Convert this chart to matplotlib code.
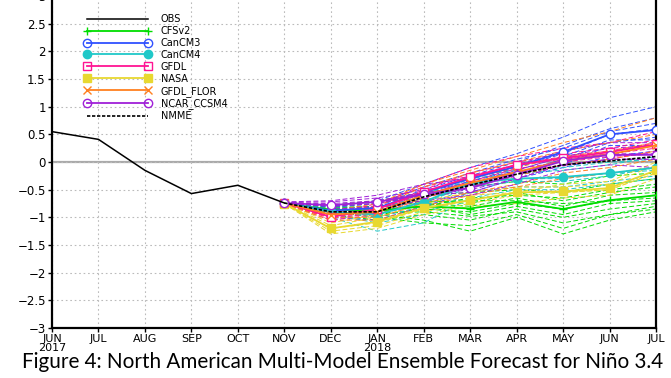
import numpy as np
import matplotlib
matplotlib.use("Agg")
from matplotlib import pyplot as plt
from matplotlib.lines import Line2D

# month axis: JUN 2017 .. JUL 2018
months = ['JUN\n2017', 'JUL', 'AUG', 'SEP', 'OCT', 'NOV', 'DEC', 'JAN\n2018',
          'FEB', 'MAR', 'APR', 'MAY', 'JUN', 'JUL']
obs = [0.55, 0.41, -0.15, -0.57, -0.42, -0.74]

# forecast months NOV .. JUL
cfsv2_mean = [-0.75, -0.86, -0.88, -0.80, -0.84, -0.72, -0.85, -0.69, -0.60]
cancm3_mean = [-0.74, -0.88, -0.83, -0.55, -0.30, -0.08, 0.18, 0.50, 0.58]
cancm4_mean = [-0.74, -0.90, -0.95, -0.72, -0.38, -0.30, -0.27, -0.20, -0.10]
gfdl_mean = [-0.74, -0.99, -0.85, -0.54, -0.27, -0.05, 0.07, 0.18, 0.32]
nasa_mean = [-0.75, -1.20, -1.08, -0.83, -0.69, -0.55, -0.53, -0.47, -0.15]
flor_mean = [-0.74, -0.95, -0.90, -0.60, -0.38, -0.18, 0.02, 0.14, 0.30]
ncar_mean = [-0.74, -0.78, -0.72, -0.58, -0.47, -0.23, 0.02, 0.13, 0.13]
nmme_mean = [-0.74, -0.90, -0.90, -0.63, -0.42, -0.22, -0.05, 0.02, 0.10]

cfsv2_members = [
    [-0.74, -0.85, -0.95, -1.05, -1.25, -1.00, -1.30, -1.05, -0.90],
    [-0.76, -0.90, -1.00, -1.10, -1.15, -0.95, -1.20, -0.95, -0.80],
    [-0.72, -0.80, -0.85, -0.80, -0.95, -0.80, -0.95, -0.75, -0.70],
    [-0.75, -0.88, -0.90, -0.75, -0.80, -0.65, -0.80, -0.60, -0.55],
    [-0.73, -0.82, -0.80, -0.70, -0.75, -0.55, -0.70, -0.55, -0.45],
    [-0.77, -0.92, -0.95, -0.85, -0.90, -0.75, -0.85, -0.70, -0.65],
    [-0.74, -0.80, -0.75, -0.60, -0.55, -0.50, -0.55, -0.40, -0.30],
    [-0.75, -0.86, -0.88, -0.80, -0.65, -0.60, -0.65, -0.50, -0.40],
    [-0.76, -0.95, -1.05, -0.95, -1.05, -0.85, -1.00, -0.85, -0.75],
    [-0.72, -0.78, -0.70, -0.55, -0.45, -0.35, -0.40, -0.25, -0.20],
    [-0.74, -0.84, -0.82, -0.72, -0.70, -0.70, -0.75, -0.70, -0.60],
    [-0.75, -0.90, -0.92, -0.90, -0.98, -0.90, -1.10, -0.95, -0.85],
]
cancm3_members = [
    [-0.72, -0.80, -0.70, -0.40, -0.10, 0.15, 0.45, 0.80, 1.00],
    [-0.74, -0.85, -0.80, -0.50, -0.25, 0.00, 0.30, 0.60, 0.80],
    [-0.76, -0.90, -0.85, -0.60, -0.35, -0.10, 0.15, 0.50, 0.60],
    [-0.73, -0.88, -0.90, -0.65, -0.40, -0.20, 0.05, 0.35, 0.45],
    [-0.75, -0.95, -0.95, -0.70, -0.45, -0.25, -0.05, 0.30, 0.30],
    [-0.74, -0.82, -0.75, -0.45, -0.20, 0.05, 0.25, 0.55, 0.70],
    [-0.75, -0.90, -0.82, -0.55, -0.35, -0.15, 0.10, 0.40, 0.40],
    [-0.77, -1.00, -1.05, -0.80, -0.55, -0.30, -0.10, 0.10, 0.20],
]
cancm4_members = [
    [-0.74, -0.90, -1.00, -0.80, -0.45, -0.35, -0.35, -0.25, -0.10],
    [-0.76, -0.95, -1.10, -0.95, -0.55, -0.45, -0.45, -0.35, -0.25],
    [-0.72, -0.85, -0.90, -0.65, -0.30, -0.20, -0.15, -0.05, 0.10],
    [-0.75, -1.00, -1.25, -1.10, -0.65, -0.50, -0.50, -0.40, -0.30],
    [-0.73, -0.88, -0.85, -0.60, -0.25, -0.15, -0.10, 0.00, 0.05],
    [-0.75, -0.92, -0.95, -0.75, -0.40, -0.30, -0.30, -0.20, -0.15],
]
gfdl_members = [
    [-0.74, -0.95, -0.80, -0.40, -0.10, 0.10, 0.25, 0.35, 0.55],
    [-0.75, -1.00, -0.90, -0.55, -0.30, -0.05, 0.10, 0.20, 0.35],
    [-0.73, -0.98, -0.85, -0.50, -0.20, 0.00, 0.15, 0.25, 0.40],
    [-0.76, -1.05, -0.95, -0.65, -0.40, -0.20, -0.05, 0.05, 0.20],
    [-0.74, -0.95, -0.75, -0.45, -0.25, -0.05, 0.05, 0.15, 0.25],
    [-0.75, -1.02, -0.92, -0.60, -0.35, -0.12, 0.00, 0.10, 0.15],
]
nasa_members = [
    [-0.74, -1.15, -1.00, -0.75, -0.60, -0.55, -0.40, -0.35, 0.00],
    [-0.76, -1.25, -1.15, -0.90, -0.75, -0.60, -0.55, -0.50, -0.20],
    [-0.75, -1.30, -1.20, -0.95, -0.80, -0.75, -0.65, -0.60, -0.30],
    [-0.73, -1.10, -0.95, -0.70, -0.55, -0.45, -0.45, -0.40, -0.05],
    [-0.75, -1.20, -1.10, -0.85, -0.70, -0.55, -0.55, -0.50, -0.20],
]
flor_members = [
    [-0.74, -0.90, -0.80, -0.45, -0.20, 0.00, 0.20, 0.35, 0.50],
    [-0.75, -0.95, -0.95, -0.65, -0.45, -0.25, -0.05, 0.05, 0.20],
    [-0.76, -1.00, -1.00, -0.75, -0.55, -0.40, -0.20, -0.10, 0.05],
    [-0.73, -0.92, -0.85, -0.55, -0.30, -0.10, 0.10, 0.20, 0.35],
    [-0.75, -1.05, -1.05, -0.80, -0.60, -0.45, -0.30, -0.20, -0.10],
    [-0.74, -0.88, -0.75, -0.40, -0.15, 0.10, 0.35, 0.55, 0.80],
]
ncar_members = [
    [-0.72, -0.70, -0.60, -0.40, -0.30, -0.05, 0.20, 0.35, 0.35],
    [-0.74, -0.75, -0.70, -0.55, -0.45, -0.20, 0.05, 0.15, 0.15],
    [-0.75, -0.80, -0.75, -0.60, -0.50, -0.30, -0.05, 0.05, 0.05],
    [-0.73, -0.72, -0.65, -0.50, -0.40, -0.15, 0.10, 0.25, 0.30],
    [-0.76, -0.85, -0.82, -0.70, -0.60, -0.40, -0.15, -0.05, -0.10],
    [-0.74, -0.78, -0.72, -0.60, -0.55, -0.30, -0.05, 0.05, 0.05],
]

# name, colour, marker, filled, means, members
models = [
    ('CFSv2', '#00dd00', '+', True, cfsv2_mean, cfsv2_members),
    ('CanCM3', '#3050ff', 'o', False, cancm3_mean, cancm3_members),
    ('CanCM4', '#20c8c8', 'o', True, cancm4_mean, cancm4_members),
    ('GFDL', '#ff1493', 's', False, gfdl_mean, gfdl_members),
    ('NASA', '#e8d830', 's', True, nasa_mean, nasa_members),
    ('GFDL_FLOR', '#ff8020', 'x', True, flor_mean, flor_members),
    ('NCAR_CCSM4', '#a020d8', 'o', False, ncar_mean, ncar_members),
]

x = np.arange(len(months))
xf = x[5:]

fig = plt.figure(figsize=(6.71, 3.78), dpi=100)
ax = fig.add_axes([0.0775, 0.1323, 0.9001, 0.878])

ax.axhline(0, color='#aaaaaa', lw=1.6, zorder=1)

# ensemble members
for name, col, mk, filled, mean, members in models:
    for m in members:
        ax.plot(xf, m, color=col, lw=0.7, ls=(0, (5, 2.5)), zorder=2)

ax.plot(x[:6], obs, color='black', lw=1.1, zorder=5)

handles = [Line2D([], [], color='black', lw=1.1)]
labels = ['OBS']
for name, col, mk, filled, mean, members in models:
    ms = 6 if mk in ('o', 's') else 5.5
    ax.plot(xf, mean, color=col, lw=1.3, marker=mk, ms=ms,
            mfc=col if filled else 'white', mec=col, mew=1.0, zorder=4)
    handles.append(Line2D([], [], color=col, lw=1.3, marker=mk, ms=ms,
                          mfc=col if filled else 'none', mec=col, mew=1.0))
    labels.append(name)
ax.plot(xf, nmme_mean, color='black', lw=1.2, ls=(0, (2, 1)), zorder=6)
handles.append(Line2D([], [], color='black', lw=1.2, ls=(0, (2, 1))))
labels.append('NMME')

leg = ax.legend(handles, labels, loc='upper left', bbox_to_anchor=(0.053, 0.946),
                frameon=False, fontsize=7, handlelength=6.9, handletextpad=1.0,
                labelspacing=0.2, numpoints=2, borderpad=0, borderaxespad=0)

ax.set_xlim(0, 13)
ax.set_ylim(-3, 3)
ax.set_xticks(x)
ax.set_xticklabels(months, fontsize=8, linespacing=0.9)
yt = np.arange(-3, 3.01, 0.5)
ax.set_yticks(yt)
ax.set_yticklabels([f'{v:g}'.replace('-', '\u2212') for v in yt], fontsize=8.5)
ax.grid(True, color='#bbbbbb', ls=(0, (1.5, 2.5)), lw=0.8)
ax.tick_params(direction='out', length=3, width=1, pad=1.5)
for s in ax.spines.values():
    s.set_linewidth(1.6)

fig.text(0.510, 0.042, 'Figure 4: North American Multi-Model Ensemble Forecast for Ni\u00f1o 3.4',
         ha='center', va='center', fontsize=14.9, family='Lato')

fig.savefig('out.png', dpi=100)
